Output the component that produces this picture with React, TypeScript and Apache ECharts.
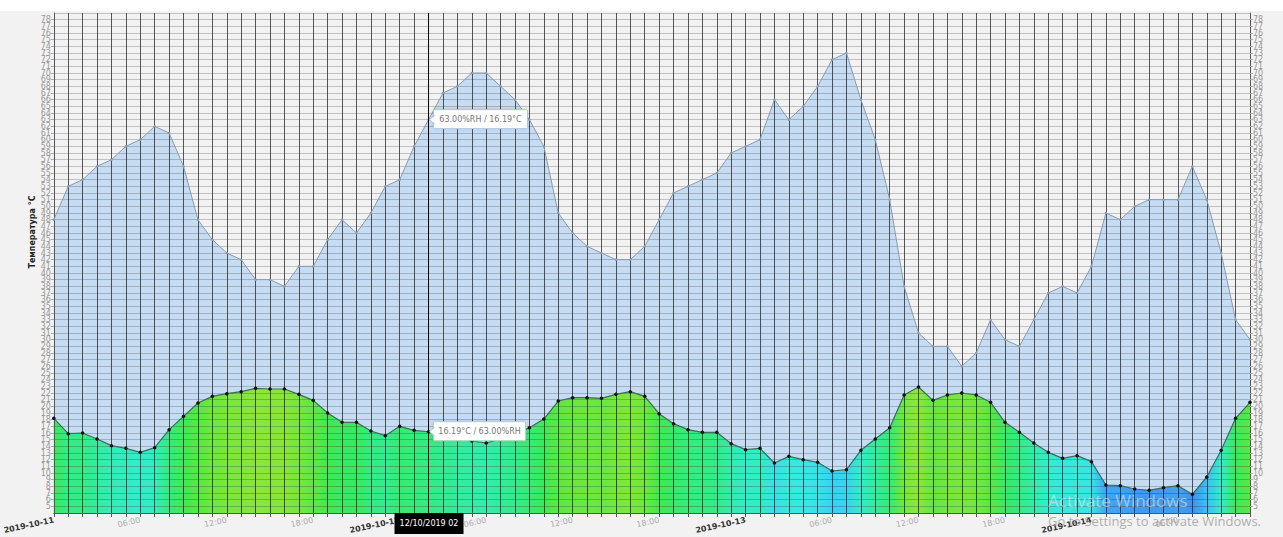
import React, { useEffect, useRef } from 'react';
import * as echarts from 'echarts';

// ---- data ----
const days = ['2019-10-11', '2019-10-12', '2019-10-13', '2019-10-14'];
const humidity = [
  48, 53, 54, 56, 57, 59, 60, 62, 61, 56, 48, 45, 43, 42, 39, 39, 38, 41, 41, 45, 48, 46, 49, 53,
  54, 59, 63, 67, 68, 70, 70, 68, 66, 63, 59, 49, 46, 44, 43, 42, 42, 44, 48, 52, 53, 54, 55, 58,
  59, 60, 66, 63, 65, 68, 72, 73, 66, 60, 51, 38, 31, 29, 29, 26, 28, 33, 30, 29, 33, 37, 38, 37,
  41, 49, 48, 50, 51, 51, 51, 56, 51, 43, 33, 30,
];
const temperature = [
  18.2, 15.9, 16.0, 15.1, 14.1, 13.7, 13.1, 13.8, 16.5, 18.5, 20.5, 21.5, 21.9, 22.2, 22.7, 22.6,
  22.6, 21.8, 20.9, 19.0, 17.6, 17.6, 16.3, 15.6, 17.0, 16.4, 16.19, 15.6, 15.2, 14.8, 14.5, 15.1,
  15.8, 16.8, 18.1, 20.8, 21.3, 21.3, 21.2, 21.8, 22.2, 21.5, 18.9, 17.4, 16.5, 16.1, 16.1, 14.4,
  13.5, 13.7, 11.5, 12.5, 12.0, 11.6, 10.3, 10.5, 13.4, 15.1, 16.8, 21.7, 22.9, 20.9, 21.7, 22.0,
  21.7, 20.6, 17.6, 16.1, 14.5, 13.1, 12.2, 12.6, 11.7, 8.2, 8.1, 7.6, 7.4, 7.8, 8.1, 6.8,
  9.4, 13.4, 18.2, 20.6,
];
const yMin = 4;
const yMax = 79;
const pointerIndex = 26;
const pointerLabel = '12/10/2019 02';
const humidityTipText = '63.00%RH / 16.19°C';
const temperatureTipText = '16.19°C / 63.00%RH';
const yAxisTitle = 'Температура °C';

const pad = (n: number) => (n < 10 ? '0' + n : '' + n);
const categories = temperature.map((_, i) => `${days[Math.floor(i / 24)]} ${pad(i % 24)}:00`);

// temperature -> colour ramp (style)
const ramp: [number, number[]][] = [
  [6, [56, 136, 240]],
  [8, [64, 160, 244]],
  [10, [60, 204, 244]],
  [12, [56, 232, 228]],
  [14, [52, 236, 186]],
  [16, [54, 234, 134]],
  [18, [60, 232, 92]],
  [20, [78, 230, 72]],
  [22, [124, 230, 64]],
  [23.5, [156, 228, 60]],
];
function tempColor(t: number) {
  if (t <= ramp[0][0]) return `rgb(${ramp[0][1].join(',')})`;
  for (let k = 1; k < ramp.length; k++) {
    if (t <= ramp[k][0]) {
      const [t0, c0] = ramp[k - 1];
      const [t1, c1] = ramp[k];
      const f = (t - t0) / (t1 - t0);
      const c = c0.map((v, j) => Math.round(v + (c1[j] - v) * f));
      return `rgb(${c.join(',')})`;
    }
  }
  return `rgb(${ramp[ramp.length - 1][1].join(',')})`;
}

const FONT = 'DejaVu Sans';

export default function App() {
  const ref = useRef<HTMLDivElement>(null);
  useEffect(() => {
    if (!ref.current) return;
    const chart = echarts.init(ref.current, undefined, { renderer: 'svg' });
    const n = temperature.length;
    const gradient = new echarts.graphic.LinearGradient(
      0, 0, 1, 0,
      temperature.map((t, i) => ({ offset: i / (n - 1), color: tempColor(t) }))
    );
    const yAxisBase = {
      type: 'value',
      min: yMin,
      max: yMax,
      interval: 1,
      z: 2,
      axisLine: { show: true, lineStyle: { color: '#555', width: 1 } },
      axisTick: { show: true, length: 3, lineStyle: { color: '#aaa' } },
      axisLabel: { fontSize: 8, color: '#999', margin: 3, fontFamily: FONT },
    };
    chart.setOption({
      animation: false,
      backgroundColor: '#f2f2f2',
      textStyle: { fontFamily: FONT },
      grid: { left: 53, right: 33, top: 13, bottom: 24, containLabel: false },
      xAxis: {
        type: 'category',
        data: categories,
        boundaryGap: false,
        z: 2,
        axisLine: { show: true, lineStyle: { color: '#555', width: 1 } },
        axisTick: { show: true, interval: 0, length: 4, lineStyle: { color: '#555' } },
        axisLabel: {
          interval: 5,
          rotate: 12,
          margin: 7,
          formatter: (v: string) =>
            v.endsWith('00:00') ? `{d|${v.slice(0, 10)}}` : `{h|${v.slice(11)}}`,
          rich: {
            d: { fontWeight: 'bold', color: '#333', fontSize: 8, fontFamily: FONT },
            h: { color: '#aaa', fontSize: 8, fontFamily: FONT },
          },
        },
        splitLine: { show: true, interval: 0, lineStyle: { color: 'rgba(25,25,25,0.72)', width: 1 } },
      },
      yAxis: [
        {
          ...yAxisBase,
          position: 'left',
          splitLine: { show: true, lineStyle: { color: 'rgba(0,0,0,0.2)', width: 1 } },
        },
        { ...yAxisBase, position: 'right', splitLine: { show: false } },
      ],
      series: [
        {
          type: 'line',
          data: humidity,
          symbol: 'none',
          silent: true,
          z: 1,
          lineStyle: { width: 0 },
          areaStyle: { color: '#c6dcf3', opacity: 1, origin: 'start' },
        },
        {
          type: 'line',
          data: temperature,
          symbol: 'none',
          silent: true,
          z: 1,
          lineStyle: { width: 0 },
          areaStyle: { color: gradient, opacity: 1, origin: 'start' },
        },
        {
          type: 'line',
          data: humidity,
          symbol: 'circle',
          symbolSize: 2.5,
          silent: true,
          z: 3,
          itemStyle: { color: '#8a9bb0' },
          lineStyle: { color: '#8a9bb0', width: 1 },
        },
        {
          type: 'line',
          data: temperature,
          symbol: 'circle',
          symbolSize: 3.5,
          silent: true,
          z: 3,
          itemStyle: { color: '#111' },
          lineStyle: { color: '#3f6a5c', width: 1.2 },
        },
      ],
    });

    const [px, pyH] = chart.convertToPixel({ gridIndex: 0 }, [pointerIndex, humidity[pointerIndex]]) as number[];
    const pyT = (chart.convertToPixel({ gridIndex: 0 }, [pointerIndex, temperature[pointerIndex]]) as number[])[1];
    const top = chart.convertToPixel({ yAxisIndex: 0 }, yMax) as number;
    const bottom = chart.convertToPixel({ yAxisIndex: 0 }, yMin) as number;
    const leftX = chart.convertToPixel({ xAxisIndex: 0 }, 0) as number;

    const tipBox = (py: number, text: string, border: string, w: number) => [
      {
        type: 'rect',
        z: 60,
        shape: { x: px + 5, y: py - 10, width: w, height: 19, r: 1 },
        style: {
          fill: '#ffffff',
          stroke: border,
          lineWidth: 1,
          shadowBlur: 3,
          shadowColor: 'rgba(0,0,0,0.15)',
        },
      },
      {
        type: 'polygon',
        z: 61,
        shape: { points: [[px + 1, py], [px + 6, py - 4], [px + 6, py + 4]] },
        style: { fill: '#ffffff', stroke: border, lineWidth: 1 },
      },
      {
        type: 'rect',
        z: 62,
        shape: { x: px + 5.5, y: py - 3.5, width: 1.5, height: 7 },
        style: { fill: '#ffffff' },
      },
      {
        type: 'text',
        z: 63,
        x: px + 5 + w / 2,
        y: py,
        style: {
          text,
          fill: '#777',
          font: `8px "${FONT}"`,
          align: 'center',
          verticalAlign: 'middle',
        },
      },
    ];

    chart.setOption({
      graphic: [
        {
          type: 'rect',
          z: 100,
          shape: { x: 0, y: 0, width: 1283, height: top - 2 },
          style: { fill: '#ffffff' },
        },
        {
          type: 'text',
          z: 50,
          x: leftX - 21,
          y: 232,
          rotation: Math.PI / 2,
          style: {
            text: yAxisTitle,
            fill: '#222',
            font: `bold 8px "${FONT}"`,
            align: 'center',
            verticalAlign: 'middle',
          },
        },
        {
          type: 'line',
          z: 40,
          shape: { x1: px, y1: top, x2: px, y2: bottom },
          style: { stroke: '#000', lineWidth: 1 },
        },
        {
          type: 'rect',
          z: 60,
          shape: { x: px - 34, y: bottom, width: 69, height: 21 },
          style: { fill: '#000' },
        },
        {
          type: 'text',
          z: 61,
          x: px + 0.5,
          y: bottom + 10.5,
          style: {
            text: pointerLabel,
            fill: '#fff',
            font: `8px "${FONT}"`,
            align: 'center',
            verticalAlign: 'middle',
          },
        },
        ...tipBox(pyH, humidityTipText, '#a9c8ea', 94),
        ...tipBox(pyT, temperatureTipText, '#a6dcb6', 92),
        {
          type: 'text',
          z: 90,
          x: 1048,
          y: 500,
          style: {
            text: 'Activate Windows',
            fill: 'rgba(235,235,235,0.55)',
            font: '17px "Open Sans"',
            verticalAlign: 'middle',
          },
        },
        {
          type: 'text',
          z: 90,
          x: 1048,
          y: 521,
          style: {
            text: 'Go to Settings to activate Windows.',
            fill: 'rgba(150,150,150,0.75)',
            font: '13px "Open Sans"',
            verticalAlign: 'middle',
          },
        },
      ],
    });

    return () => chart.dispose();
  }, []);
  return (
    <div
      ref={ref}
      style={{ position: 'fixed', left: 0, top: 0, width: 1283, height: 537 }}
    />
  );
}
